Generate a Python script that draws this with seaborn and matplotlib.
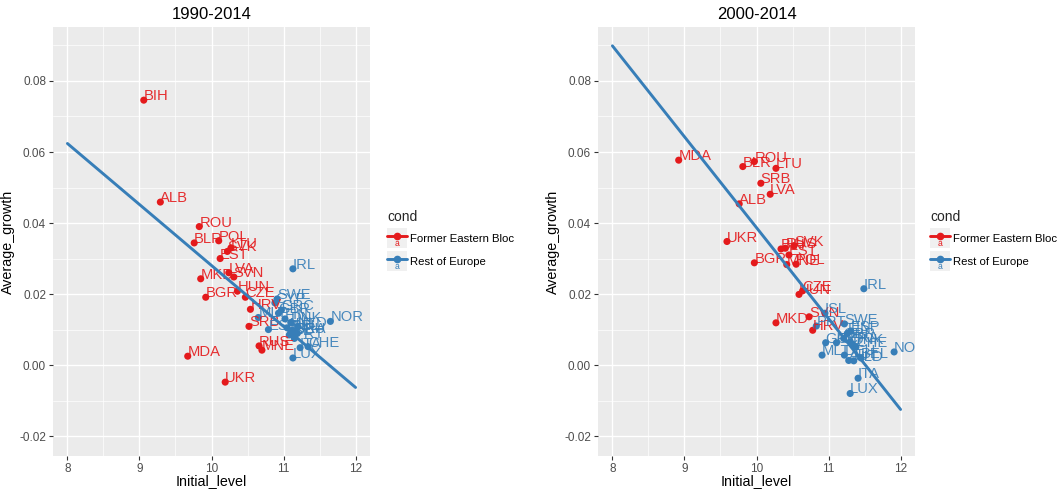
import numpy as np
import pandas as pd
import matplotlib
matplotlib.use("Agg")
import matplotlib.pyplot as plt
import seaborn as sns
from matplotlib.lines import Line2D
from matplotlib.patches import Rectangle
from matplotlib.text import Text
from matplotlib.legend_handler import HandlerLine2D
from matplotlib.ticker import MultipleLocator, FixedLocator

# ---------------- data ----------------
panel_titles = ["1990-2014", "2000-2014"]
cond_names = ["Former Eastern Bloc", "Rest of Europe"]

# 1990-2014
east_90_codes = ["BIH", "ALB", "ROU", "BLR", "POL", "LTU", "SVK", "EST", "LVA", "MKD",
                 "SVN", "HUN", "BGR", "CZE", "HRV", "SRB", "RUS", "MNE", "MDA", "UKR"]
east_90_x = [9.06, 9.29, 9.83, 9.76, 10.10, 10.27, 10.22, 10.12, 10.24, 9.85,
             10.31, 10.36, 9.92, 10.47, 10.54, 10.52, 10.66, 10.70, 9.67, 10.19]
east_90_y = [0.0746, 0.0459, 0.0390, 0.0344, 0.0350, 0.0330, 0.0320, 0.0300, 0.0260, 0.0243,
             0.0248, 0.0208, 0.0191, 0.0191, 0.0157, 0.0109, 0.0054, 0.0042, 0.0025, -0.0048]
rest_90_codes = ["IRL", "NOR", "LUX", "SWE", "CYP", "MLT", "ESP", "GBR", "GRC", "DNK",
                 "FIN", "FRA", "ITA", "CHE", "AUT", "BEL", "DEU", "NLD", "ISL", "PRT"]
rest_90_x = [11.13, 11.65, 11.13, 10.91, 10.88, 10.65, 10.79, 10.93, 10.97, 11.10,
             11.02, 11.19, 11.23, 11.34, 11.05, 11.12, 11.16, 11.20, 11.08, 11.15]
rest_90_y = [0.0271, 0.0123, 0.0020, 0.0186, 0.0175, 0.0134, 0.0100, 0.0146, 0.0155, 0.0120,
             0.0130, 0.0089, 0.0049, 0.0052, 0.0105, 0.0098, 0.0090, 0.0108, 0.0085, 0.0075]
line_90_x = [8.0, 12.0]
line_90_y = [0.0624, -0.0063]

# 2000-2014
east_00_codes = ["MDA", "BLR", "ROU", "LTU", "SRB", "LVA", "ALB", "UKR", "BIH", "RUS",
                 "SVK", "EST", "MNE", "POL", "BGR", "CZE", "HUN", "SVN", "MKD", "HRV"]
east_00_x = [8.92, 9.81, 9.97, 10.27, 10.06, 10.19, 9.76, 9.59, 10.34, 10.40,
             10.52, 10.45, 10.42, 10.55, 9.97, 10.64, 10.59, 10.73, 10.27, 10.78]
east_00_y = [0.0577, 0.0559, 0.0573, 0.0554, 0.0512, 0.0481, 0.0454, 0.0348, 0.0327, 0.0329,
             0.0336, 0.0310, 0.0283, 0.0284, 0.0288, 0.0209, 0.0199, 0.0136, 0.0119, 0.0098]
rest_00_codes = ["IRL", "ISL", "PRT", "SWE", "ESP", "FIN", "GBR", "GRC", "CYP", "FRA",
                 "DNK", "NLD", "CHE", "AUT", "MLT", "DEU", "BEL", "NOR", "ITA", "LUX"]
rest_00_x = [11.49, 10.95, 10.83, 11.22, 11.31, 11.26, 11.21, 10.96, 11.11, 11.30,
             11.33, 11.35, 11.38, 11.28, 10.91, 11.22, 11.45, 11.91, 11.41, 11.30]
rest_00_y = [0.0215, 0.0146, 0.0110, 0.0116, 0.0096, 0.0089, 0.0075, 0.0063, 0.0063, 0.0066,
             0.0059, 0.0012, 0.0051, 0.0013, 0.0028, 0.0028, 0.0020, 0.0037, -0.0037, -0.0080]
line_00_x = [8.0, 12.0]
line_00_y = [0.0899, -0.0125]

x_ticks = [8, 9, 10, 11, 12]
y_ticks = [-0.02, 0.00, 0.02, 0.04, 0.06, 0.08]
y_tick_labels = ["-0.02", "0.00", "0.02", "0.04", "0.06", "0.08"]


def make_df(ec, ex, ey, rc, rx, ry):
    return pd.DataFrame({
        "code": ec + rc,
        "Initial_level": ex + rx,
        "Average_growth": ey + ry,
        "cond": [cond_names[0]] * len(ec) + [cond_names[1]] * len(rc),
    })


panels = [
    (make_df(east_90_codes, east_90_x, east_90_y, rest_90_codes, rest_90_x, rest_90_y),
     line_90_x, line_90_y),
    (make_df(east_00_codes, east_00_x, east_00_y, rest_00_codes, rest_00_x, rest_00_y),
     line_00_x, line_00_y),
]

# ---------------- style ----------------
RED = "#E41A1C"
BLUE = "#377EB8"
palette = {cond_names[0]: RED, cond_names[1]: BLUE}

sns.set_theme(style="darkgrid")
plt.rcParams["font.family"] = ["Liberation Sans", "DejaVu Sans"]
plt.rcParams["axes.unicode_minus"] = False

W, H = 1061, 491
fig = plt.figure(figsize=(W / 100, H / 100), dpi=100)

axes_px = [(53, 27, 370, 456), (598, 27, 915, 456)]
legend_px = [(387, 210), (930, 210)]


class KeyHandler(HandlerLine2D):
    def create_artists(self, legend, orig_handle, xdescent, ydescent,
                       width, height, fontsize, trans):
        side = width
        y0 = -ydescent + height / 2 - side / 2
        rect = Rectangle((-xdescent, y0), side, side, facecolor="#F0F0F0",
                         edgecolor="none", transform=trans)
        arts = super().create_artists(legend, orig_handle, xdescent, ydescent,
                                      width, height, fontsize, trans)
        txt = Text(-xdescent + side / 2, -ydescent + height / 2 - 0.5, "a",
                   color=orig_handle.get_color(), fontsize=fontsize * 0.75,
                   ha="center", va="top", transform=trans)
        return [rect] + arts + [txt]


for i, (df, lx, ly) in enumerate(panels):
    l, t, r, b = axes_px[i]
    ax = fig.add_axes([l / W, (H - b) / H, (r - l) / W, (b - t) / H])
    ax.set_facecolor("#EBEBEB")

    sns.scatterplot(data=df, x="Initial_level", y="Average_growth", hue="cond",
                    palette=palette, s=26, edgecolor="none", linewidth=0,
                    legend=False, ax=ax, zorder=3)
    for _, row in df.iterrows():
        ax.text(row["Initial_level"], row["Average_growth"], row["code"],
                color=palette[row["cond"]], alpha=0.9, fontsize=10.6,
                ha="left", va="baseline", clip_on=True, zorder=4)
    sns.lineplot(x=lx, y=ly, color=BLUE, linewidth=2.1, ax=ax, zorder=5)

    ax.set_xlim(7.80, 12.20)
    ax.set_ylim(-0.0256, 0.0952)
    ax.xaxis.set_major_locator(FixedLocator(x_ticks))
    ax.yaxis.set_major_locator(FixedLocator(y_ticks))
    ax.set_yticklabels(y_tick_labels)
    ax.xaxis.set_minor_locator(MultipleLocator(0.5))
    ax.yaxis.set_minor_locator(FixedLocator([-0.01, 0.01, 0.03, 0.05, 0.07, 0.09]))
    ax.grid(which="major", color="white", linewidth=1.0)
    ax.grid(which="minor", color="white", linewidth=0.5)
    ax.set_axisbelow(True)
    for sp in ax.spines.values():
        sp.set_visible(False)
    ax.tick_params(axis="both", which="major", length=3, width=0.8, color="#333333",
                   labelsize=8.5, labelcolor="#4D4D4D", pad=2, bottom=True, left=True)
    ax.tick_params(axis="both", which="minor", length=0)
    ax.set_xlabel("Initial_level", fontsize=10.3, color="black", labelpad=-1)
    ax.set_ylabel("Average_growth", fontsize=10.3, color="black", labelpad=3)
    ax.set_title(panel_titles[i], fontsize=12, color="black", pad=6)

    handles = [Line2D([0], [0], color=palette[c], marker="o", markersize=4.5,
                      linewidth=2.1) for c in cond_names]
    lxp, lyp = legend_px[i]
    leg = fig.legend(handles, cond_names, title="cond", loc="upper left",
                     bbox_to_anchor=(lxp / W, 1 - lyp / H), frameon=False,
                     fontsize=8.2, title_fontsize=10, handlelength=1.75,
                     handleheight=1.95, handletextpad=0.3, labelspacing=0.5,
                     borderpad=0, borderaxespad=0,
                     handler_map={Line2D: KeyHandler()})
    leg._legend_box.align = "left"
    leg._legend_box.sep = 4
    for txt in leg.get_texts():
        txt.set_color("black")

fig.savefig("out.png", dpi=100)
